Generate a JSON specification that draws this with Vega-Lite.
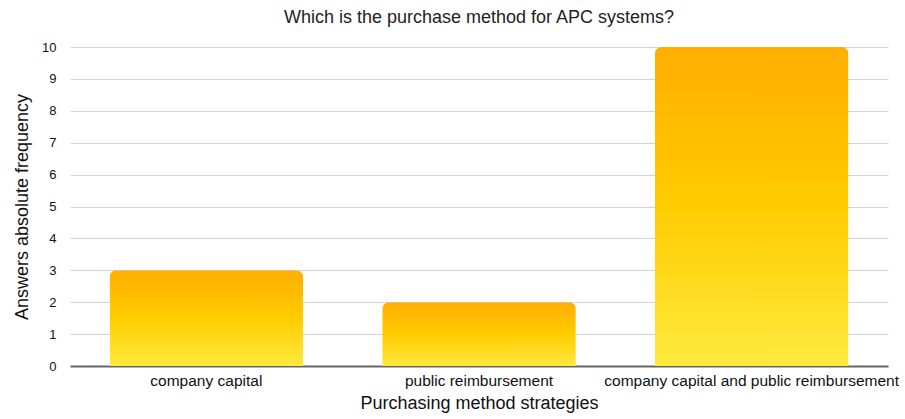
{
  "$schema": "https://vega.github.io/schema/vega-lite/v6.json",
  "autosize": "none",
  "width": 818,
  "height": 319,
  "padding": {"left": 70, "top": 47, "right": 17, "bottom": 53},
  "background": "white",
  "title": {
    "text": "Which is the purchase method for APC systems?",
    "font": "Liberation Sans",
    "fontSize": 18,
    "fontWeight": "normal",
    "color": "#222",
    "offset": 14,
    "anchor": "middle"
  },
  "data": {
    "values": [
      {"method": "company capital", "count": 3},
      {"method": "public reimbursement", "count": 2},
      {"method": "company capital and public reimbursement", "count": 10}
    ]
  },
  "mark": {
    "type": "bar",
    "cornerRadiusTopLeft": 7,
    "cornerRadiusTopRight": 7,
    "color": {
      "gradient": "linear",
      "x1": 0, "y1": 0, "x2": 0, "y2": 1,
      "stops": [
        {"offset": 0, "color": "#FFAE00"},
        {"offset": 0.5, "color": "#FFCC00"},
        {"offset": 1, "color": "#FFE93E"}
      ]
    }
  },
  "encoding": {
    "x": {
      "field": "method",
      "type": "nominal",
      "sort": null,
      "scale": {"paddingInner": 0.29, "paddingOuter": 0.145},
      "axis": {
        "title": "Purchasing method strategies",
        "labelAngle": 0,
        "labelFont": "Liberation Sans",
        "labelFontSize": 15.5,
        "labelColor": "#111",
        "labelPadding": 7,
        "ticks": false,
        "domainColor": "#666",
        "domainWidth": 2,
        "titleFont": "Liberation Sans",
        "titleFontSize": 18,
        "titleFontWeight": "normal",
        "titleColor": "#111",
        "titlePadding": 6,
        "labelLimit": 400
      }
    },
    "y": {
      "field": "count",
      "type": "quantitative",
      "scale": {"domain": [0, 10]},
      "axis": {
        "title": "Answers absolute frequency",
        "values": [0,1,2,3,4,5,6,7,8,9,10],
        "labelFont": "Liberation Sans",
        "labelFontSize": 13,
        "labelColor": "#111",
        "labelPadding": 14,
        "ticks": false,
        "domain": false,
        "gridColor": "#d3d3d3",
        "gridWidth": 1.2,
        "titleFont": "Liberation Sans",
        "titleFontSize": 18,
        "titleFontWeight": "normal",
        "titleColor": "#111",
        "titlePadding": 10
      }
    }
  },
  "config": {"view": {"stroke": null}}
}
